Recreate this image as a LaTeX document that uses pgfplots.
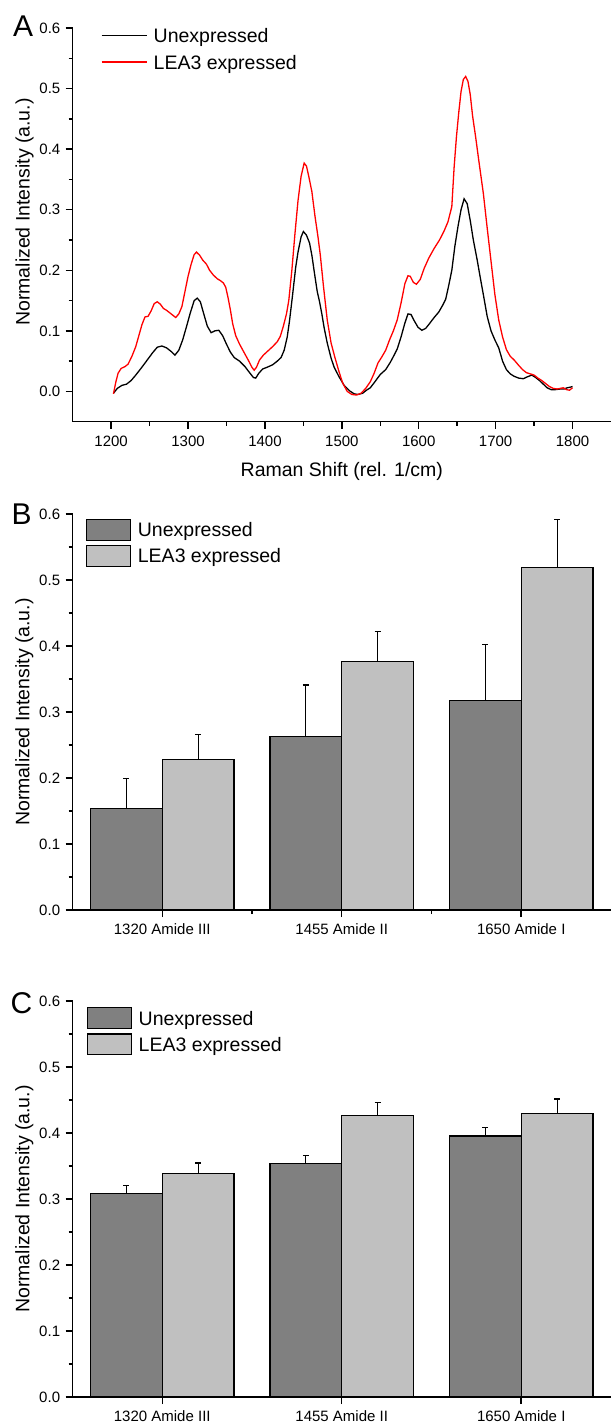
\documentclass[border=0pt]{standalone}
\usepackage{fontspec}
\setmainfont{Liberation Sans}
\usepackage{pgfplots}
\pgfplotsset{compat=1.18}
\definecolor{darkbar}{RGB}{128,128,128}
\definecolor{lightbar}{RGB}{192,192,192}
\pgfplotsset{
  common/.style={
    scale only axis,
    axis lines=left,
    axis line style={-, line width=0.75pt},
    every tick/.style={line width=0.75pt, black},
    tick align=outside,
    major tick length=3.5pt,
    minor tick length=2pt,
    /pgf/number format/assume math mode=true,
    /pgf/number format/1000 sep={},
    tick label style={font=\fontsize{7.5}{9}\selectfont, inner sep=0pt},
    yticklabel style={anchor=east, xshift=-2.5pt, /pgf/number format/.cd, fixed, fixed zerofill, precision=1},
    xticklabel style={anchor=base, yshift=-9pt},
    label style={font=\fontsize{9.75}{11}\selectfont, inner sep=0pt},
    ylabel style={anchor=south},
    ytick={0,0.1,0.2,0.3,0.4,0.5,0.6},
    legend cell align=left,
  },
  barlegend/.style={
    legend image code/.code={\draw[##1, line width=0.6pt] (0pt,-5.2pt) rectangle (22pt,5.2pt);},
    legend style={draw=none, fill=none, inner sep=0pt, anchor=north west,
      nodes={inner sep=0pt, text height=8pt, text depth=1pt, font=\fontsize{9.75}{11}\selectfont},
      row sep=2.1pt, column sep=3.3pt},
  },
  darkstyle/.style={ybar, bar width=0.4, bar shift=0, fill=darkbar, draw=black, line width=0.6pt,
    error bars/.cd, y dir=plus, y explicit,
    error bar style={line width=0.6pt, black},
    error mark options={rotate=90, mark size=1.5pt, line width=0.6pt, black}},
  lightstyle/.style={ybar, bar width=0.4, bar shift=0, fill=lightbar, draw=black, line width=0.6pt,
    error bars/.cd, y dir=plus, y explicit,
    error bar style={line width=0.6pt, black},
    error mark options={rotate=90, mark size=1.5pt, line width=0.6pt, black}},
}
\begin{document}
\begin{tikzpicture}
\useasboundingbox (0pt,0pt) rectangle (305.5pt,-713pt);
% ---------------- Panel A ----------------
\begin{axis}[common,
  at={(36.35pt,-210.85pt)}, anchor=south west,
  width=269.15pt, height=196.85pt,
  xmin=1150, xmax=1850, ymin=-0.05, ymax=0.6,
  xtick={1200,1300,1400,1500,1600,1700,1800},
  minor xtick={1250,1350,1450,1550,1650,1750},
  minor ytick={0.05,0.15,0.25,0.35,0.45,0.55},
  xlabel={Raman Shift (rel. 1/cm)},
  ylabel={Normalized Intensity (a.u.)},
  xlabel style={at={(axis description cs:0.5,-0.1397)}, anchor=base},
  ylabel style={at={(axis description cs:-0.0719,0.5326)}},
  legend image code/.code={\draw[#1] (0pt,0pt) -- (22.75pt,0pt);},
  legend style={draw=none, fill=none, inner sep=0pt, at={(axis description cs:0.0516,1.005)}, anchor=north west,
    nodes={inner sep=0pt, text height=8pt, text depth=1pt, font=\fontsize{9.75}{11}\selectfont},
    row sep=4.35pt, column sep=3pt},
]
\addplot[black, line width=0.65pt] coordinates {
(1203,-0.003) (1208,0.005) (1214,0.010) (1220,0.012) (1226,0.018) (1232,0.027) (1240,0.040) (1247,0.052) (1254,0.064) (1260,0.073) (1266,0.075) (1272,0.072) (1278,0.066) (1283,0.060) (1288,0.068) (1293,0.085) (1298,0.107) (1303,0.130) (1308,0.150) (1312,0.154) (1316,0.148) (1320,0.130) (1325,0.108) (1330,0.097) (1335,0.100) (1340,0.101) (1345,0.092) (1350,0.078) (1355,0.065) (1360,0.056) (1367,0.050) (1374,0.041) (1380,0.031) (1385,0.023) (1388,0.022) (1392,0.030) (1397,0.037) (1403,0.040) (1410,0.044) (1416,0.050) (1421,0.056) (1425,0.068) (1429,0.090) (1432,0.117) (1436,0.160) (1440,0.205) (1443,0.230) (1447,0.255) (1450,0.264) (1454,0.258) (1458,0.245) (1461,0.225) (1465,0.190) (1468,0.165) (1471,0.148) (1474,0.128) (1477,0.105) (1481,0.080) (1486,0.055) (1490,0.040) (1496,0.025) (1503,0.010) (1510,0.001) (1516,-0.004) (1521,-0.005) (1527,-0.003) (1532,0.002) (1537,0.006) (1543,0.016) (1550,0.028) (1557,0.036) (1563,0.048) (1568,0.060) (1572,0.070) (1577,0.090) (1582,0.113) (1586,0.128) (1590,0.127) (1594,0.117) (1599,0.106) (1604,0.101) (1609,0.104) (1614,0.112) (1620,0.122) (1626,0.131) (1631,0.142) (1635,0.152) (1639,0.175) (1643,0.200) (1647,0.240) (1651,0.272) (1655,0.300) (1659,0.318) (1663,0.310) (1667,0.282) (1671,0.250) (1676,0.217) (1680,0.188) (1684,0.160) (1689,0.124) (1694,0.100) (1699,0.085) (1704,0.072) (1709,0.050) (1714,0.036) (1719,0.029) (1724,0.025) (1730,0.022) (1736,0.021) (1741,0.024) (1747,0.027) (1752,0.023) (1757,0.018) (1762,0.012) (1767,0.006) (1772,0.003) (1778,0.003) (1784,0.004) (1789,0.004) (1793,0.006) (1797,0.007) (1800,0.008)
};
\addplot[red, line width=0.65pt] coordinates {
(1203,-0.004) (1206,0.015) (1209,0.030) (1213,0.038) (1218,0.041) (1222,0.045) (1227,0.058) (1232,0.074) (1236,0.092) (1240,0.110) (1244,0.123) (1248,0.124) (1252,0.133) (1256,0.145) (1260,0.148) (1264,0.144) (1268,0.137) (1272,0.134) (1276,0.130) (1280,0.126) (1284,0.122) (1288,0.128) (1292,0.140) (1296,0.165) (1300,0.190) (1304,0.210) (1308,0.226) (1311,0.230) (1315,0.225) (1319,0.217) (1324,0.210) (1328,0.200) (1333,0.192) (1338,0.186) (1342,0.183) (1346,0.179) (1349,0.172) (1352,0.155) (1355,0.135) (1358,0.112) (1362,0.092) (1367,0.078) (1373,0.064) (1379,0.050) (1383,0.040) (1386,0.035) (1389,0.040) (1393,0.052) (1398,0.060) (1404,0.067) (1410,0.074) (1416,0.082) (1420,0.091) (1424,0.108) (1428,0.128) (1431,0.150) (1435,0.200) (1439,0.260) (1443,0.315) (1447,0.355) (1451,0.377) (1454,0.372) (1457,0.355) (1461,0.330) (1465,0.290) (1469,0.255) (1472,0.225) (1476,0.175) (1481,0.118) (1486,0.080) (1491,0.056) (1496,0.034) (1501,0.014) (1507,0.000) (1513,-0.005) (1519,-0.006) (1525,-0.003) (1531,0.005) (1537,0.016) (1542,0.030) (1547,0.047) (1552,0.057) (1557,0.068) (1562,0.085) (1567,0.100) (1572,0.118) (1577,0.146) (1582,0.178) (1586,0.191) (1589,0.190) (1593,0.180) (1597,0.177) (1602,0.185) (1607,0.203) (1613,0.220) (1620,0.236) (1627,0.250) (1633,0.265) (1638,0.280) (1643,0.305) (1646,0.370) (1649,0.420) (1652,0.460) (1655,0.495) (1658,0.515) (1661,0.520) (1664,0.512) (1667,0.490) (1670,0.455) (1674,0.420) (1678,0.382) (1684,0.327) (1689,0.270) (1694,0.215) (1699,0.160) (1704,0.118) (1709,0.090) (1714,0.069) (1719,0.058) (1724,0.052) (1730,0.043) (1735,0.036) (1740,0.031) (1745,0.029) (1750,0.027) (1755,0.022) (1760,0.018) (1765,0.013) (1770,0.008) (1775,0.005) (1780,0.004) (1784,0.005) (1788,0.006) (1792,0.003) (1796,0.002) (1800,0.006)
};
\legend{Unexpressed, LEA3 expressed}
\end{axis}
% ---------------- Panel B ----------------
\begin{axis}[common, barlegend,
  at={(36.25pt,-455pt)}, anchor=south west,
  width=269.25pt, height=198pt,
  xmin=-0.5, xmax=2.5, ymin=0, ymax=0.6,
  xtick={0,1,2}, xticklabels={1320 Amide III, 1455 Amide II, 1650 Amide I},
  minor xtick={0.5,1.5},
  minor ytick={0.05,0.15,0.25,0.35,0.45,0.55},
  ylabel={Normalized Intensity (a.u.)},
  ylabel style={at={(axis description cs:-0.0719,0.5)}},
  xticklabel style={yshift=0.5pt},
  legend style={at={(axis description cs:0.0245,0.9891)}},
]
\addplot[darkstyle] coordinates {(-0.2,0.154) +- (0,0.045) (0.8,0.263) +- (0,0.078) (1.8,0.318) +- (0,0.084)};
\addplot[lightstyle] coordinates {(0.2,0.228) +- (0,0.038) (1.2,0.377) +- (0,0.045) (2.2,0.519) +- (0,0.073)};
\legend{Unexpressed, LEA3 expressed}
\end{axis}
% ---------------- Panel C ----------------
\begin{axis}[common, barlegend,
  at={(36.25pt,-698.5pt)}, anchor=south west,
  width=269.25pt, height=198pt,
  xmin=-0.5, xmax=2.5, ymin=0, ymax=0.6,
  xtick={0,1,2}, xticklabels={1320 Amide III, 1455 Amide II, 1650 Amide I},
  minor ytick={0.05,0.15,0.25,0.35,0.45,0.55},
  ylabel={Normalized Intensity (a.u.)},
  ylabel style={at={(axis description cs:-0.0719,0.5)}},
  xticklabel style={yshift=0.5pt},
  legend style={at={(axis description cs:0.026,0.9856)}},
]
\addplot[darkstyle] coordinates {(-0.2,0.308) +- (0,0.013) (0.8,0.3535) +- (0,0.012) (1.8,0.3955) +- (0,0.013)};
\addplot[lightstyle] coordinates {(0.2,0.339) +- (0,0.0155) (1.2,0.426) +- (0,0.0205) (2.2,0.429) +- (0,0.0225)};
\legend{Unexpressed, LEA3 expressed}
\end{axis}
% panel letters
\node[anchor=base west, inner sep=0pt, font=\fontsize{15}{18}\selectfont] at (6.3pt,-18pt) {A};
\node[anchor=base west, inner sep=0pt, font=\fontsize{15}{18}\selectfont] at (5.6pt,-262pt) {B};
\node[anchor=base west, inner sep=0pt, font=\fontsize{15}{18}\selectfont] at (5.1pt,-506.65pt) {C};
\end{tikzpicture}
\end{document}
